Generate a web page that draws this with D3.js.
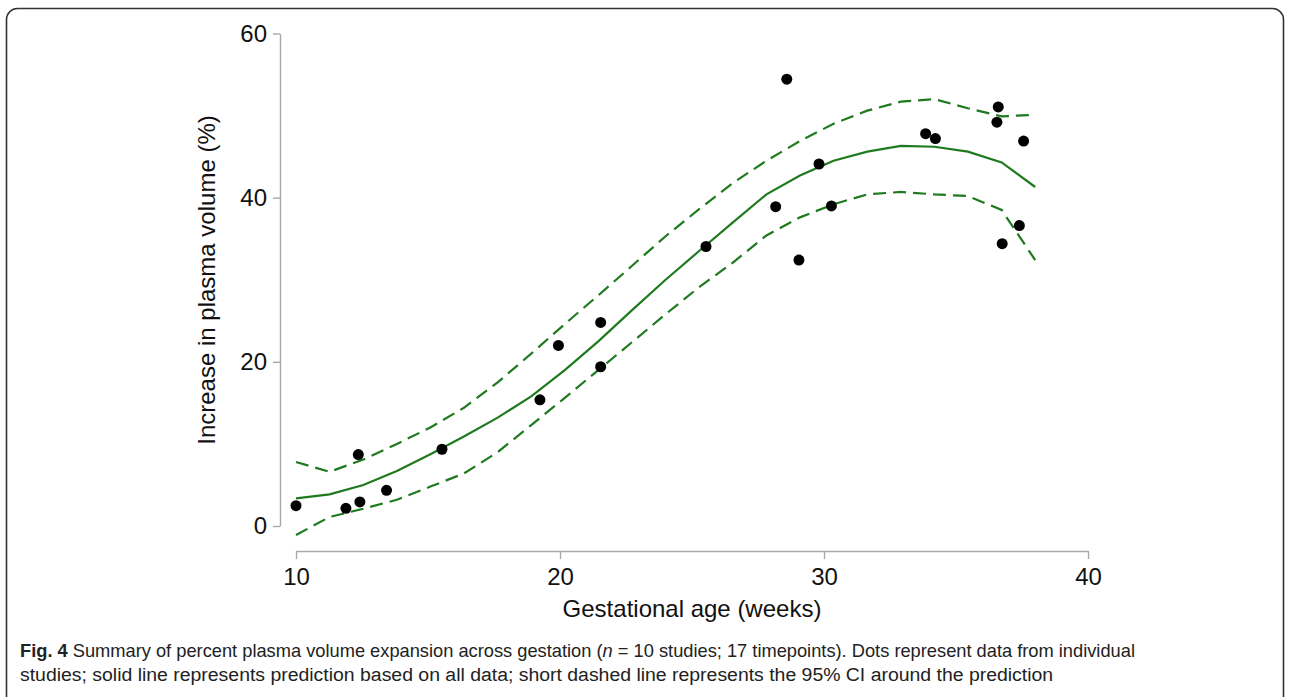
<!DOCTYPE html>
<html>
<head>
<meta charset="utf-8">
<script src="https://cdn.jsdelivr.net/npm/d3@7"></script>
<style>
  body { margin: 0; background: #fff; }
  svg { display: block; }
  .axis path, .axis line { stroke: #a8a8a8; stroke-width: 1.4; }
  .axis text { font-family: "Liberation Sans", Arial, sans-serif; font-size: 24px; fill: #111; }
</style>
</head>
<body>
<svg id="chart" width="1290" height="697"></svg>
<script>
const nwidth = 1290, nheight = 697

// study timepoints (gestational week, % increase)
const dotWeeks = [10.0, 11.89, 12.42, 12.36, 13.43, 15.53, 19.24, 19.94, 21.54, 21.54, 25.53,
                  28.17, 28.59, 29.05, 29.81, 30.28, 33.85, 34.22, 36.6, 36.55, 36.75, 37.4, 37.56]
const dotValues = [2.48, 2.16, 2.93, 8.7, 4.35, 9.35, 15.37, 22.0, 24.8, 19.4, 34.05,
                   38.9, 54.43, 32.4, 44.1, 39.0, 47.8, 47.2, 51.06, 49.2, 34.4, 36.6, 46.9]

// prediction curve and 95% CI, evaluated at these weeks
const fitWeeks = [10, 11.27, 12.55, 13.82, 15.09, 16.36, 17.64, 18.91, 20.18, 21.45, 22.73, 24,
                  25.27, 26.55, 27.82, 29.09, 30.36, 31.64, 32.91, 34.18, 35.45, 36.73, 38]
const fitValues = [3.37, 3.86, 5.0, 6.7, 8.75, 10.9, 13.2, 15.8, 19.0, 22.5, 26.3, 30.0,
                   33.5, 37.0, 40.4, 42.7, 44.5, 45.6, 46.3, 46.2, 45.6, 44.3, 41.3]
const upperValues = [7.8, 6.6, 8.1, 10.0, 12.0, 14.4, 17.5, 21.0, 24.6, 28.1, 31.7, 35.3,
                     38.6, 41.8, 44.5, 46.9, 49.0, 50.6, 51.7, 52.0, 50.9, 49.9, 50.1]
const lowerValues = [-1.1, 1.1, 2.1, 3.2, 4.8, 6.4, 9.0, 12.3, 15.6, 19.0, 22.4, 25.8,
                     29.1, 32.1, 35.4, 37.6, 39.2, 40.4, 40.7, 40.4, 40.2, 38.5, 32.4]

const xTicks = [10, 20, 30, 40]
const yTicks = [0, 20, 40, 60]

const green = "#1f7a1f"

const svg = d3.select("#chart")

// rounded frame around the figure
svg.append("rect")
  .attr("x", 6.5).attr("y", 8.5).attr("width", 1277).attr("height", 720).attr("rx", 11)
  .attr("fill", "none").attr("stroke", "#333").attr("stroke-width", 1.6)

const x = d3.scaleLinear().domain([10, 40]).range([296, 1088])
const y = d3.scaleLinear().domain([0, 60]).range([526, 33.5])

svg.append("g").attr("class", "axis")
  .attr("transform", "translate(280,0)")
  .call(d3.axisLeft(y).tickValues(yTicks).tickSize(7).tickSizeOuter(0).tickPadding(6))

svg.append("g").attr("class", "axis")
  .attr("transform", "translate(0,551)")
  .call(d3.axisBottom(x).tickValues(xTicks).tickSize(8).tickSizeOuter(0).tickPadding(9))

svg.append("text")
  .attr("transform", "translate(215,280) rotate(-90)")
  .attr("text-anchor", "middle")
  .style("font-family", "'Liberation Sans', Arial, sans-serif").style("font-size", "24px").style("fill", "#111")
  .text("Increase in plasma volume (%)")

svg.append("text")
  .attr("x", 692).attr("y", 617)
  .attr("text-anchor", "middle")
  .style("font-family", "'Liberation Sans', Arial, sans-serif").style("font-size", "24px").style("fill", "#111")
  .text("Gestational age (weeks)")

const line = d3.line().x(d => x(d[0])).y(d => y(d[1]))

const series = [
  {vals: upperValues, dash: "13,7"},
  {vals: lowerValues, dash: "13,7"},
  {vals: fitValues, dash: null}
]

svg.selectAll("path.fit")
  .data(series)
  .enter().append("path").attr("class", "fit")
    .attr("d", s => line(fitWeeks.map((w, i) => [w, s.vals[i]])))
    .attr("fill", "none")
    .attr("stroke", green)
    .attr("stroke-width", 2.2)
    .attr("stroke-dasharray", s => s.dash)

svg.selectAll("circle.dot")
  .data(dotWeeks)
  .enter().append("circle").attr("class", "dot")
    .attr("cx", d => x(d))
    .attr("cy", (d, i) => y(dotValues[i]))
    .attr("r", 5.5)
    .attr("fill", "#000")

// caption: narrow look done by squeezing each line horizontally
function captionLine(yPos, targetWidth, parts) {
  const g = svg.append("g")
    .style("font-family", "'Liberation Sans', Arial, sans-serif")
    .style("font-size", "19px").style("fill", "#222")
  const t = g.append("text").attr("x", 0).attr("y", 0)
  parts.forEach(p => {
    const ts = t.append("tspan").text(p.text)
    if (p.bold) ts.style("font-weight", "bold")
    if (p.italic) ts.style("font-style", "italic")
  })
  const k = targetWidth / t.node().getComputedTextLength()
  g.attr("transform", `translate(20,${yPos}) scale(${k},1)`)
}

captionLine(657, 1116, [
  {text: "Fig. 4", bold: true},
  {text: " Summary of percent plasma volume expansion across gestation ("},
  {text: "n", italic: true},
  {text: " = 10 studies; 17 timepoints). Dots represent data from individual"}
])
captionLine(681, 1034, [
  {text: "studies; solid line represents prediction based on all data; short dashed line represents the 95% CI around the prediction"}
])
</script>
</body>
</html>
